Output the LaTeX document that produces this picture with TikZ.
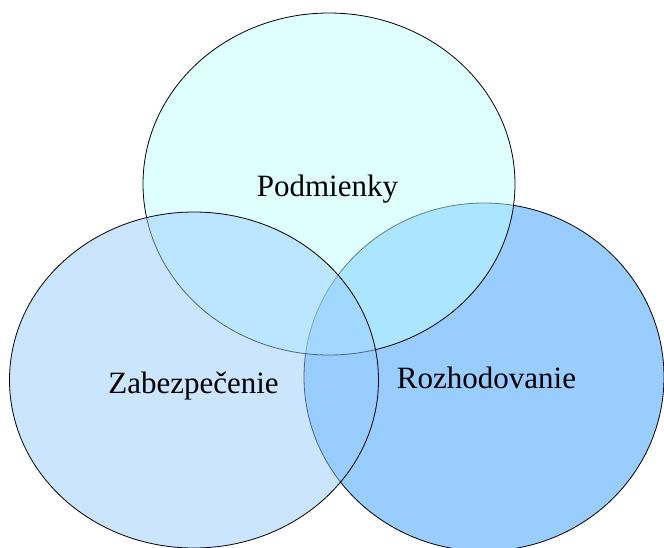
\documentclass[tikz,border=0pt]{standalone}
\usepackage{fontspec}
\setmainfont{Liberation Serif}
\usepackage{xcolor}
\usepackage{tikz}
\usetikzlibrary{shapes.geometric}

\definecolor{modraR}{HTML}{99CCFF}
\definecolor{tyrkysP}{HTML}{C0FFFF}
\definecolor{modraZ}{HTML}{99CCFF}

\begin{document}
\begin{tikzpicture}[
    x=1pt, y=-1pt,
    kruh/.style={draw, ellipse, line width=0.8pt, inner sep=0pt},
    popis/.style={anchor=base, font=\fontsize{31}{36}\selectfont}
  ]
    \useasboundingbox (0,0) rectangle (664,547);

    \node[kruh, fill=modraR, minimum width=360pt, minimum height=348pt] (rozh) at (484,377) {};
    \node[kruh, fill=tyrkysP, fill opacity=0.5, minimum width=372pt, minimum height=342pt] (podm) at (329,184) {};
    \node[kruh, fill=modraZ, fill opacity=0.5, minimum width=369pt, minimum height=336pt] (zabe) at (194,380) {};

    \node[popis] (tPodm) at (327.5,196) {Podmienky};
    \node[popis] (tZabe) at (193.5,393) {Zabezpečenie};
    \node[popis] (tRozh) at (486.5,388) {Rozhodovanie};
  \end{tikzpicture}
\end{document}
